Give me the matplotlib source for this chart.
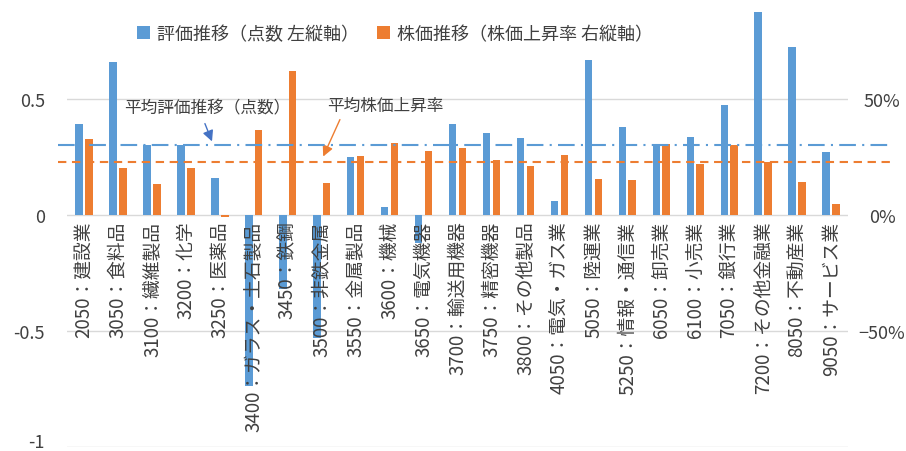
import matplotlib
matplotlib.use("Agg")
import matplotlib.pyplot as plt
import numpy as np
from matplotlib.ticker import PercentFormatter

plt.rcParams['font.family'] = ['Noto Sans CJK JP', 'DejaVu Sans']

# 業種別の評価推移（点数）と株価上昇率（%）
sectors = ["2050：建設業", "3050：食料品", "3100：繊維製品", "3200：化学", "3250：医薬品",
           "3400：ガラス・土石製品", "3450：鉄鋼", "3500：非鉄金属", "3550：金属製品",
           "3600：機械", "3650：電気機器", "3700：輸送用機器", "3750：精密機器",
           "3800：その他製品", "4050：電気・ガス業", "5050：陸運業", "5250：情報・通信業",
           "6050：卸売業", "6100：小売業", "7050：銀行業", "7200：その他金融業",
           "8050：不動産業", "9050：サービス業"]
score = [0.391, 0.661, 0.300, 0.300, 0.158, -0.736, -0.32, -0.53, 0.250, 0.034, -0.12,
         0.391, 0.355, 0.333, 0.059, 0.669, 0.379, 0.299, 0.338, 0.474, 0.876, 0.723, 0.270]
rise = [32.6, 20.1, 13.4, 20.1, -1.0, 36.6, 61.9, 13.8, 25.4, 31.2, 27.6,
        29.0, 23.8, 21.3, 25.9, 15.4, 15.1, 30.7, 22.1, 30.0, 22.8, 14.2, 4.6]
avg_score = 0.300
avg_rise = 23.0

blue = '#5B9BD5'
orange = '#ED7D31'
txt = '#404040'

fig = plt.figure(figsize=(9.06, 4.52), dpi=100)
ax = fig.add_axes([0.074, 0.009, 0.862, 0.991])

x = np.arange(len(sectors))
w = 0.22
ax.bar(x - 0.145, score, w, color=blue, zorder=2, label='評価推移（点数 左縦軸）')
# 右縦軸は左縦軸と同じ目盛り（0.5 = 50%）
ax.bar(x + 0.145, np.array(rise) / 100, w, color=orange, zorder=2,
       label='株価推移（株価上昇率 右縦軸）')

ax.set_xlim(-0.5, len(sectors) - 0.5)
ax.set_ylim(-1, 0.931)
ax.set_yticks([-1, -0.5, 0, 0.5])
ax.set_yticklabels(['-1', '-0.5', '0', '0.5'])
ax.get_yticklabels()[0].set_verticalalignment('baseline')
ax.set_axisbelow(True)
ax.yaxis.grid(True, color='#D9D9D9', lw=1)
for s in ax.spines.values():
    s.set_visible(False)
ax.spines['bottom'].set_position(('data', 0))
ax.set_xticks(x)
ax.set_xticklabels(sectors, rotation=90, va='top', ha='center')
ax.xaxis.set_zorder(3)
ax.tick_params(axis='x', length=0, pad=4, labelsize=13.5, labelcolor=txt)
ax.tick_params(axis='y', length=0, pad=16, labelsize=13, labelcolor=txt)

# 平均線（プロット領域の外まで伸ばす）
ax.axhline(avg_score, xmin=-0.0115, xmax=1.056, clip_on=False, color=blue, lw=1.5,
           dashes=(8, 3, 1, 3), zorder=4)
ax.axhline(avg_rise / 100, xmin=-0.0115, xmax=1.056, clip_on=False, color=orange, lw=1.5,
           dashes=(4, 2.7), zorder=4)

ax.text(3.62, 0.461, '平均評価推移（点数）', fontsize=12, color=txt, ha='center', va='center')
ax.annotate('', xy=(3.80, 0.306), xytext=(3.53, 0.405),
            arrowprops=dict(arrowstyle='-|>', color='#4472C4', lw=1, mutation_scale=16))
ax.text(8.86, 0.47, '平均株価上昇率', fontsize=12, color=txt, ha='center', va='center')
ax.annotate('', xy=(7.01, 0.241), xytext=(7.57, 0.422),
            arrowprops=dict(arrowstyle='-|>', color=orange, lw=1, mutation_scale=16))

ax2 = ax.twinx()
ax2.set_ylim(ax.get_ylim())
ax2.set_yticks([-0.5, 0, 0.5])
ax2.yaxis.set_major_formatter(PercentFormatter(1.0, decimals=0))
for s in ax2.spines.values():
    s.set_visible(False)
ax2.tick_params(axis='y', length=0, pad=24.5, labelsize=13, labelcolor=txt)
for lbl in ax2.get_yticklabels():
    lbl.set_horizontalalignment('center')

h, l = ax.get_legend_handles_labels()
fig.legend(h, l, loc='center', bbox_to_anchor=(395 / 906, 1 - 35 / 452), ncol=2,
           frameon=False, fontsize=13, handlelength=0.7, handleheight=0.7,
           handletextpad=0.4, columnspacing=1.0, labelcolor=txt)

fig.savefig('out.png', dpi=100, facecolor='white')
